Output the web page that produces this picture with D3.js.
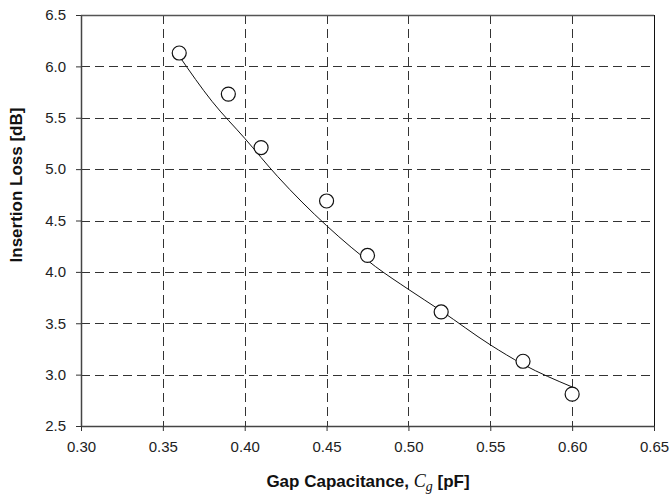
<!DOCTYPE html>
<html><head><meta charset="utf-8">
<script src="https://cdn.jsdelivr.net/npm/d3@7"></script>
<style>body{margin:0;background:#fff}</style>
</head><body>
<svg id="c" width="670" height="497"></svg>
<script>
const xTicks = [0.30,0.35,0.40,0.45,0.50,0.55,0.60,0.65];
const yTicks = [2.5,3.0,3.5,4.0,4.5,5.0,5.5,6.0,6.5];
const pointX = [0.36,0.39,0.41,0.45,0.475,0.52,0.57,0.60];
const pointY = [6.13,5.73,5.21,4.69,4.16,3.61,3.13,2.81];
const fitX = [0.36,0.38,0.40,0.42,0.45,0.48,0.50,0.52,0.55,0.57,0.60];
const fitY = [6.10,5.66,5.30,4.93,4.45,4.05,3.83,3.62,3.29,3.10,2.88];

const svg = d3.select("#c");
const L=81,R=654,T=15,B=426;
const x = d3.scaleLinear().domain([0.30,0.65]).range([L,R]);
const y = d3.scaleLinear().domain([2.5,6.5]).range([B,T]);
const font = "'Liberation Sans', Arial, sans-serif";

// grid
svg.append("g").selectAll("line").data(yTicks.slice(1,-1)).join("line")
  .attr("x1",L).attr("x2",R).attr("y1",d=>Math.round(y(d))+0.5).attr("y2",d=>Math.round(y(d))+0.5)
  .attr("stroke","#333").attr("stroke-width",1).attr("stroke-dasharray","9,5");
svg.append("g").selectAll("line").data(xTicks.slice(1,-1)).join("line")
  .attr("y1",T).attr("y2",B).attr("x1",d=>Math.round(x(d))+0.5).attr("x2",d=>Math.round(x(d))+0.5)
  .attr("stroke","#333").attr("stroke-width",1).attr("stroke-dasharray","9,5");

// frame top/right
svg.append("line").attr("x1",L).attr("x2",R).attr("y1",T+0.5).attr("y2",T+0.5).attr("stroke","#555").attr("stroke-width",1.5);
svg.append("line").attr("x1",R+0.5).attr("x2",R+0.5).attr("y1",T).attr("y2",B).attr("stroke","#111").attr("stroke-width",1);

// axes
const xAxis = d3.axisBottom(x).tickValues(xTicks).tickFormat(d3.format(".2f")).tickSize(5).tickSizeOuter(0).tickPadding(10);
const yAxis = d3.axisLeft(y).tickValues(yTicks).tickFormat(d3.format(".1f")).tickSize(5).tickSizeOuter(0).tickPadding(10);
const gx = svg.append("g").attr("transform",`translate(0,${B})`).call(xAxis);
const gy = svg.append("g").attr("transform",`translate(${L},0)`).call(yAxis);
[gx,gy].forEach(g=>{
  g.select(".domain").attr("stroke","#444").attr("stroke-width",1.5);
  g.selectAll(".tick line").attr("stroke","#333");
  g.selectAll(".tick text").attr("font-family",font).attr("font-size",15).attr("fill","#222");
});

// fit curve
const line = d3.line().x(d=>x(d[0])).y(d=>y(d[1])).curve(d3.curveMonotoneX);
svg.append("path").datum(fitX.map((v,i)=>[v,fitY[i]])).attr("d",line)
  .attr("fill","none").attr("stroke","#111").attr("stroke-width",1);

// points
svg.append("g").selectAll("circle").data(pointX.map((v,i)=>[v,pointY[i]])).join("circle")
  .attr("cx",d=>x(d[0])).attr("cy",d=>y(d[1])).attr("r",7)
  .attr("fill","#fff").attr("stroke","#111").attr("stroke-width",1.2);

// titles
svg.append("text").attr("transform",`translate(22,185) rotate(-90)`).attr("text-anchor","middle")
  .attr("font-family",font).attr("font-weight","bold").attr("font-size",17).attr("fill","#111")
  .text("Insertion Loss [dB]");
const xt = svg.append("text").attr("x",368).attr("y",487).attr("text-anchor","middle")
  .attr("font-family",font).attr("font-weight","bold").attr("font-size",17).attr("fill","#111");
xt.append("tspan").text("Gap Capacitance, ");
xt.append("tspan").attr("font-family","'Liberation Serif', 'Times New Roman', serif").attr("font-style","italic").attr("font-weight","normal").attr("font-size",18).text("C");
xt.append("tspan").attr("font-family","'Liberation Serif', 'Times New Roman', serif").attr("font-style","italic").attr("font-weight","normal").attr("font-size",14).attr("dy",4).text("g");
xt.append("tspan").attr("dy",-4).text(" [pF]");
</script>
</body></html>
